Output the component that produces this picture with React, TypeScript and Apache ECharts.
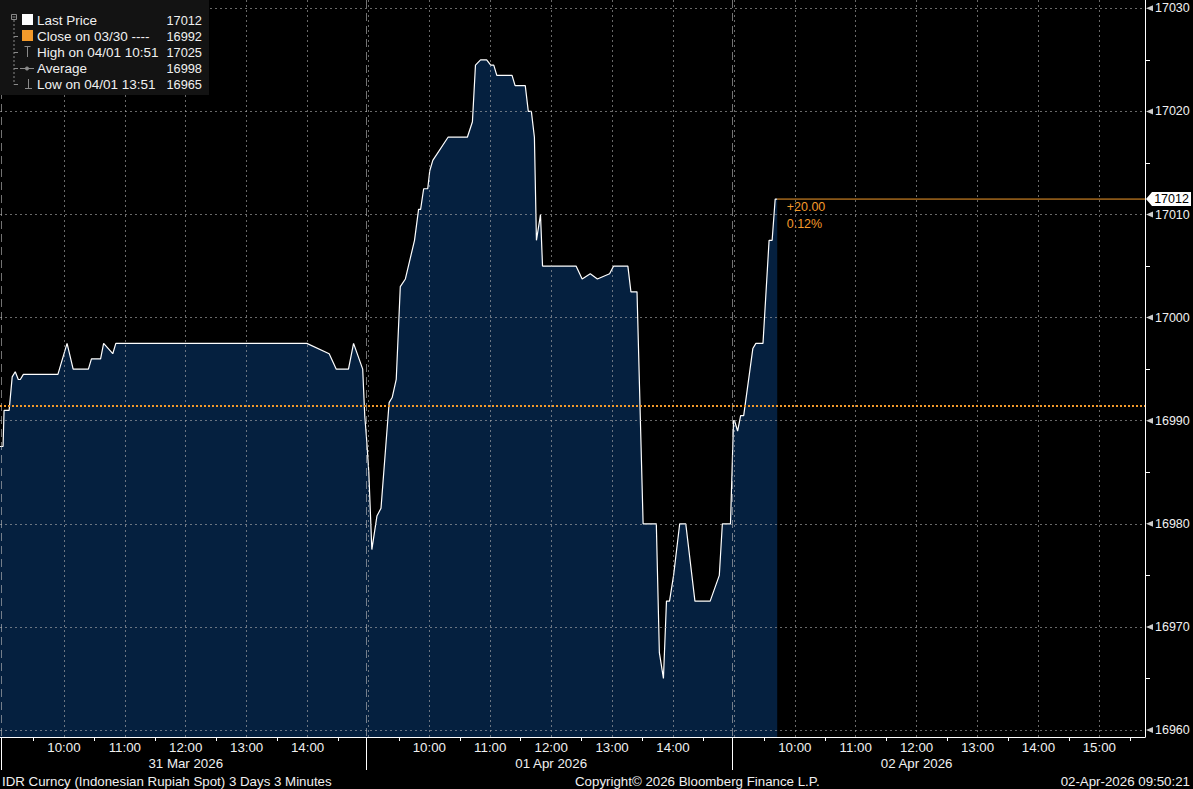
import React, { useEffect, useRef } from 'react';
import * as echarts from 'echarts';

const FONT = "'Liberation Sans', Arial, sans-serif";

const DAY_LABELS = ['31 Mar 2026', '01 Apr 2026', '02 Apr 2026'];

const DAY1_TIMES = ['08:58', '09:01', '09:02', '09:07', '09:10', '09:13', '09:16', '09:18', '09:21', '09:55', '10:04', '10:10', '10:25', '10:28', '10:37', '10:40', '10:49', '10:52', '14:00', '14:22', '14:29', '14:41', '14:46', '14:55', '14:57', '14:59'];
const DAY1_PRICES = [16987.5, 16987.5, 16991, 16991, 16994.25, 16994.75, 16994, 16994, 16994.5, 16994.5, 16997.5, 16995, 16995, 16996, 16996, 16997.5, 16996.5, 16997.5, 16997.5, 16996.5, 16995, 16995, 16997.5, 16995, 16990.5, 16988];

const DAY2_TIMES = ['09:01', '09:04', '09:09', '09:13', '09:21', '09:24', '09:28', '09:32', '09:37', '09:46', '09:50', '09:52', '09:55', '09:59', '10:01', '10:04', '10:19', '10:38', '10:43', '10:46', '10:51', '10:57', '11:01', '11:04', '11:07', '11:22', '11:25', '11:35', '11:38', '11:41', '11:44', '11:46', '11:50', '11:52', '12:25', '12:31', '12:39', '12:46', '12:58', '13:02', '13:16', '13:19', '13:25', '13:31', '13:44', '13:47', '13:51', '13:54', '13:57', '14:01', '14:07', '14:13', '14:22', '14:37', '14:46', '14:49', '14:57'];
const DAY2_PRICES = [16985, 16977.5, 16980.75, 16981.5, 16991.75, 16992.25, 16994, 17003, 17003.75, 17007.5, 17010.5, 17010.5, 17012.5, 17012.5, 17014.25, 17015.25, 17017.5, 17017.5, 17019, 17024.5, 17025, 17025, 17024.5, 17024.5, 17023.5, 17023.5, 17022.5, 17022.5, 17020, 17020, 17017.5, 17007.5, 17010, 17005, 17005, 17003.75, 17004.25, 17003.75, 17004.25, 17005, 17005, 17002.5, 17002.5, 16980, 16980, 16967.5, 16965, 16972.5, 16972.5, 16975, 16980, 16980, 16972.5, 16972.5, 16975, 16980, 16980];

const DAY3_TIMES = ['09:00', '09:01', '09:04', '09:07', '09:10', '09:19', '09:22', '09:29', '09:35', '09:38', '09:41', '09:43'];
const DAY3_PRICES = [16990, 16990, 16989, 16990.5, 16990.5, 16997, 16997.5, 16997.5, 17007.5, 17007.5, 17011.5, 17011.5];

const CLOSE_PRICE = 16991.5;
const LAST_PRICE = 17011.5;

const Y_TICKS = [16960, 16970, 16980, 16990, 17000, 17010, 17020, 17030];

const LEGEND_LABELS = ['Last Price', 'Close on 03/30 ----', 'High on 04/01 10:51', 'Average', 'Low on 04/01 13:51'];
const LEGEND_VALUES = ['17012', '16992', '17025', '16998', '16965'];

const FOOTER_LEFT = 'IDR Curncy (Indonesian Rupiah Spot) 3 Days 3 Minutes';
const FOOTER_MID = 'Copyright\u00A9 2026 Bloomberg Finance L.P.';
const FOOTER_RIGHT = '02-Apr-2026 09:50:21';

// session: 09:00 - 15:00 (360 trading minutes per day), days chained
const SESSION_OPEN = 9 * 60;
const SESSION_LEN = 360;
const DAY_STARTS = [0, SESSION_LEN, 2 * SESSION_LEN];

const X_MIN = -2;
const X_MAX = 1125;
const X_AXIS_MAX = 1140;
const Y_MIN = 16959.32;
const Y_MAX = 17030.81;

const NAVY = '#05203f';
const ORANGE = '#f39a2b';
const TEXT = '#f0f0f0';
const GRID_COLOR = 'rgba(175,175,175,0.6)';

function toMinutes(day: number, hhmm: string): number {
  const [h, m] = hhmm.split(':').map(Number);
  return day * SESSION_LEN + h * 60 + m - SESSION_OPEN;
}

function buildSeries(): number[][] {
  const days = [
    [DAY1_TIMES, DAY1_PRICES],
    [DAY2_TIMES, DAY2_PRICES],
    [DAY3_TIMES, DAY3_PRICES],
  ] as [string[], number[]][];
  const out: number[][] = [];
  days.forEach(([times, prices], d) => {
    times.forEach((t, i) => out.push([toMinutes(d, t), prices[i]]));
  });
  return out;
}

function xLabel(v: number): string {
  if (v % 60 !== 0) return '';
  const d = Math.min(2, Math.floor(v / SESSION_LEN));
  const t = v - d * SESSION_LEN;
  if (t <= 0 || t > SESSION_LEN) return '';
  const hour = (SESSION_OPEN + t) / 60;
  const s = `${hour}:00`;
  return t === 180 ? `${s}\n${DAY_LABELS[d]}` : s;
}

export default function App() {
  const ref = useRef<HTMLDivElement>(null);

  useEffect(() => {
    if (!ref.current) return;
    const chart = echarts.init(ref.current, undefined, { renderer: 'svg' });
    const data = buildSeries();
    const last = data[data.length - 1];
    const change = LAST_PRICE - CLOSE_PRICE;
    const pct = (change / CLOSE_PRICE) * 100;
    const changeText = `${change >= 0 ? '+' : ''}${change.toFixed(2)}\n${pct.toFixed(2)}%`;

    const rowY = [20, 36, 52, 68, 84];
    const gray = '#8a8a8a';
    const legendChildren: any[] = [
      { type: 'rect', shape: { x: 0, y: 0, width: 209, height: 95 }, style: { fill: '#131313' }, z: 10 },
      { type: 'rect', shape: { x: 11.5, y: 14.5, width: 5, height: 5 }, style: { fill: 'none', stroke: gray, lineWidth: 1 }, z: 11 },
      { type: 'line', shape: { x1: 12.5, y1: 17, x2: 15.5, y2: 17 }, style: { stroke: gray, lineWidth: 1 }, z: 11 },
      { type: 'line', shape: { x1: 14, y1: 20, x2: 14, y2: 84.5 }, style: { stroke: gray, lineWidth: 1, lineDash: [2, 2] }, z: 11 },
      { type: 'rect', shape: { x: 22, y: 14, width: 11, height: 11 }, style: { fill: '#ffffff' }, z: 11 },
      { type: 'rect', shape: { x: 22, y: 30, width: 11, height: 11 }, style: { fill: ORANGE }, z: 11 },
      { type: 'line', shape: { x1: 24.5, y1: 46.5, x2: 30.5, y2: 46.5 }, style: { stroke: gray, lineWidth: 1 }, z: 11 },
      { type: 'line', shape: { x1: 27.5, y1: 46.5, x2: 27.5, y2: 57 }, style: { stroke: gray, lineWidth: 1 }, z: 11 },
      { type: 'line', shape: { x1: 20, y1: 68.5, x2: 34, y2: 68.5 }, style: { stroke: gray, lineWidth: 1 }, z: 11 },
      { type: 'circle', shape: { cx: 27, cy: 68.5, r: 2 }, style: { fill: gray }, z: 11 },
      { type: 'line', shape: { x1: 28.5, y1: 79, x2: 28.5, y2: 88.5 }, style: { stroke: gray, lineWidth: 1 }, z: 11 },
      { type: 'line', shape: { x1: 25, y1: 88.5, x2: 32, y2: 88.5 }, style: { stroke: gray, lineWidth: 1 }, z: 11 },
    ];
    [36, 52, 68, 84].forEach((y) => {
      legendChildren.push({ type: 'line', shape: { x1: 14, y1: y + 0.5, x2: 18, y2: y + 0.5 }, style: { stroke: gray, lineWidth: 1 }, z: 11 });
    });
    LEGEND_LABELS.forEach((label, i) => {
      legendChildren.push({
        type: 'text', z: 11,
        style: { text: label, x: 37, y: rowY[i], fill: TEXT, font: `13.5px ${FONT}`, align: 'left', verticalAlign: 'middle' },
      });
      legendChildren.push({
        type: 'text', z: 11,
        style: { text: LEGEND_VALUES[i], x: 202, y: rowY[i], fill: TEXT, font: `12.8px ${FONT}`, align: 'right', verticalAlign: 'middle' },
      });
    });

    const footer = [
      { type: 'text', style: { text: FOOTER_LEFT, x: 2, y: 781, fill: TEXT, font: `13.3px ${FONT}`, align: 'left', verticalAlign: 'middle' } },
      { type: 'text', style: { text: FOOTER_MID, x: 575, y: 781, fill: TEXT, font: `13.3px ${FONT}`, align: 'left', verticalAlign: 'middle' } },
      { type: 'text', style: { text: FOOTER_RIGHT, x: 1190, y: 781, fill: TEXT, font: `13.3px ${FONT}`, align: 'right', verticalAlign: 'middle' } },
    ];

    const option: any = {
      animation: false,
      backgroundColor: '#000000',
      textStyle: { fontFamily: FONT },
      grid: [
        { left: 0, right: 48, top: 0, bottom: 52 },
        { left: 0, right: 48, top: 8.3, bottom: 59 },
        { left: 2.03, right: 32.76, top: 0, bottom: 52 },
      ],
      xAxis: [
        {
          gridIndex: 0, type: 'value', min: X_MIN, max: X_MAX,
          axisLine: { show: true, onZero: false, lineStyle: { color: '#ffffff', width: 1 } },
          axisTick: { show: false }, axisLabel: { show: false }, splitLine: { show: false },
        },
        { gridIndex: 1, type: 'value', min: 0, max: 1, show: false, axisLine: { onZero: false } },
        {
          gridIndex: 2, type: 'value', min: 0, max: X_AXIS_MAX, interval: 60, z: 3,
          axisLine: { show: false, onZero: false },
          axisTick: { show: false },
          minorTick: { show: true, splitNumber: 2, length: 4, lineStyle: { color: '#ffffff', width: 1 } },
          minorSplitLine: { show: false },
          axisLabel: { show: true, formatter: xLabel, color: TEXT, fontSize: 13.3, fontFamily: FONT, lineHeight: 16, margin: 2 },
          splitLine: { show: true, showMinLine: false, showMaxLine: false, lineStyle: { color: GRID_COLOR, width: 1, type: [2, 3] } },
        },
      ],
      yAxis: [
        {
          gridIndex: 0, type: 'value', position: 'right', min: Y_MIN, max: Y_MAX,
          axisLine: { show: true, onZero: false, lineStyle: { color: '#ffffff', width: 1 } },
          axisTick: { show: false }, axisLabel: { show: false }, splitLine: { show: false },
        },
        {
          gridIndex: 1, type: 'value', position: 'right', min: Y_TICKS[0], max: Y_TICKS[Y_TICKS.length - 1], interval: 10, z: 3,
          axisLine: { show: false, onZero: false },
          axisTick: { show: false },
          minorTick: { show: true, splitNumber: 2, length: 5, lineStyle: { color: '#ffffff', width: 1 } },
          minorSplitLine: { show: false },
          axisLabel: { show: true, color: TEXT, fontSize: 12.5, fontFamily: FONT, margin: 10, align: 'left', formatter: (v: number) => String(v) },
          splitLine: { show: true, lineStyle: { color: GRID_COLOR, width: 1, type: [2, 3] } },
        },
        { gridIndex: 2, type: 'value', min: 0, max: 1, show: false, axisLine: { onZero: false } },
      ],
      series: [
        {
          type: 'line', xAxisIndex: 0, yAxisIndex: 0, data, showSymbol: false, symbol: 'none',
          lineStyle: { color: '#ffffff', width: 1.2 },
          areaStyle: { color: NAVY, opacity: 1, origin: 'start' },
          z: 2, silent: true,
          markLine: {
            silent: true, symbol: ['none', 'none'], animation: false,
            label: { show: false },
            lineStyle: { color: ORANGE, width: 2, type: [2, 2], opacity: 1 },
            data: [{ yAxis: CLOSE_PRICE }],
          },
          markPoint: {
            silent: true, animation: false,
            data: [
              {
                coord: [last[0], LAST_PRICE], symbol: 'circle', symbolSize: 1,
                itemStyle: { color: 'rgba(0,0,0,0)' },
                label: {
                  show: true, position: 'right', distance: 9, offset: [0, 16], formatter: changeText,
                  color: ORANGE, fontSize: 12.5, fontFamily: FONT, lineHeight: 17, align: 'left',
                },
              },
              {
                coord: [X_MAX, LAST_PRICE], symbol: 'path://M0,7L6,0L45,0L45,14L6,14Z', symbolSize: [45, 14],
                symbolOffset: [23.5, 0], itemStyle: { color: '#ffffff' },
                label: {
                  show: true, position: 'inside', formatter: String(Math.round(LAST_PRICE)), offset: [3, 0],
                  color: '#000000', fontSize: 12.5, fontFamily: FONT,
                },
              },
            ],
          },
        },
        {
          type: 'line', xAxisIndex: 0, yAxisIndex: 0, silent: true, z: 3,
          data: [[last[0], LAST_PRICE], [X_MAX, LAST_PRICE]],
          showSymbol: false, symbol: 'none',
          lineStyle: { color: ORANGE, width: 1 },
        },
        {
          type: 'custom', xAxisIndex: 0, yAxisIndex: 0, clip: false, silent: true, z: 4,
          data: DAY_STARTS.map((v) => [v, Y_MIN]),
          renderItem: (_params: any, api: any) => {
            const bottomPt = api.coord([api.value(0), Y_MIN]);
            const topPt = api.coord([api.value(0), Y_MAX]);
            const x = Math.round(bottomPt[0] - 1.5) + 0.5;
            return {
              type: 'group',
              children: [
                { type: 'line', shape: { x1: x, y1: topPt[1], x2: x, y2: bottomPt[1] }, style: { stroke: 'rgba(190,190,190,0.6)', lineWidth: 1, lineDash: [8, 5] } },
                { type: 'line', shape: { x1: x, y1: bottomPt[1], x2: x, y2: bottomPt[1] + 33 }, style: { stroke: '#ffffff', lineWidth: 1 } },
              ],
            };
          },
        },
        {
          type: 'scatter', xAxisIndex: 1, yAxisIndex: 1, silent: true, clip: false, z: 5,
          data: Y_TICKS.map((v) => [1, v]),
          symbol: 'triangle', symbolRotate: 90, symbolSize: [6, 7], symbolOffset: [4.5, 0],
          itemStyle: { color: '#ffffff' },
        },
      ],
      graphic: [...legendChildren, ...footer],
    };
    chart.setOption(option);
    return () => chart.dispose();
  }, []);

  return <div ref={ref} style={{ position: 'absolute', left: 0, top: 0, width: '1193px', height: '789px' }} />;
}
